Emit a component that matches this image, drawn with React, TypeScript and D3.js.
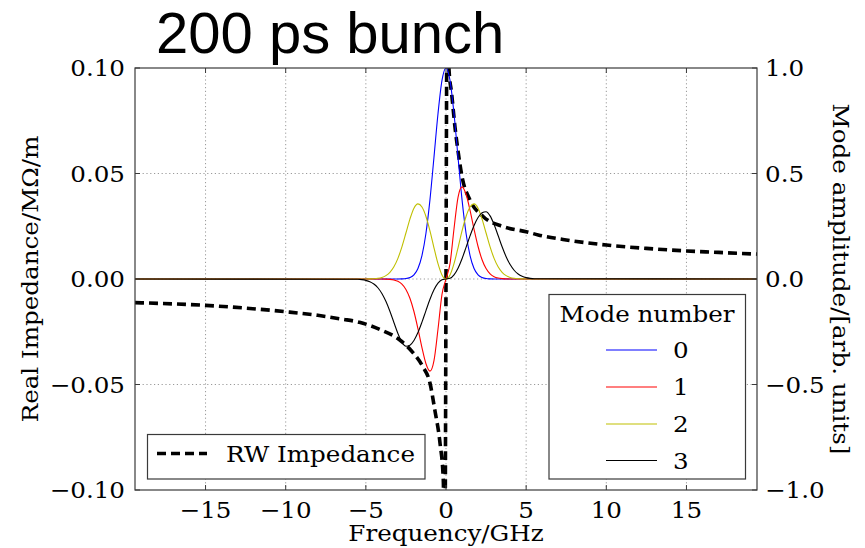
import React from "react";
import * as d3 from "d3";

// ---------- data ----------
const TITLE = "200 ps bunch";
const X_TICKS = [-15, -10, -5, 0, 5, 10, 15];
const YL_TICKS = [-0.1, -0.05, 0, 0.05, 0.1];
const YR_TICKS = [-1, -0.5, 0, 0.5, 1];

// Resistive wall impedance (MOhm/m) vs frequency (GHz)
const RW_FREQ = [-19.4, -17, -15, -12.5, -10, -8, -6.5, -5.4, -4.1, -2.9, -2.05, -1.45, -1.0, -0.7, -0.37, -0.17, -0.08,
  0.08, 0.19, 0.35, 0.56, 0.77, 1.0, 1.5, 2.33, 3.57, 5.0, 5.75, 7.5, 10, 12.5, 15, 17, 19.4];
const RW_Z = [-0.0112, -0.0118, -0.0125, -0.0138, -0.0155, -0.0172, -0.019, -0.0205, -0.024, -0.0288, -0.035, -0.0415, -0.0493, -0.062, -0.078, -0.095, -0.14,
  0.14, 0.099, 0.088, 0.072, 0.0596, 0.0485, 0.0374, 0.0295, 0.0248, 0.0224, 0.0209, 0.0185, 0.0161, 0.0145, 0.0133, 0.0126, 0.0118];

// Mode spectra (arb. units) vs frequency (GHz)
const MODE_FREQ = [-19.4, -5.5, -5.25, -5, -4.75, -4.5, -4.25, -4, -3.75, -3.5, -3.25, -3, -2.75, -2.5, -2.25, -2, -1.75, -1.5, -1.25, -1, -0.75, -0.5, -0.25,
  0, 0.25, 0.5, 0.75, 1, 1.25, 1.5, 1.75, 2, 2.25, 2.5, 2.75, 3, 3.25, 3.5, 3.75, 4, 4.25, 4.5, 4.75, 5, 5.25, 5.5, 19.4];
const MODE0 = [0, 0, 0, 0, 0, 0, 0, 0, 0, 0, 0, 0.0001, 0.0006, 0.002, 0.007, 0.02, 0.05, 0.111, 0.217, 0.376, 0.577, 0.783, 0.941,
  1.0, 0.941, 0.783, 0.577, 0.376, 0.217, 0.111, 0.05, 0.02, 0.007, 0.002, 0.0006, 0.0001, 0, 0, 0, 0, 0, 0, 0, 0, 0, 0, 0];
const MODE1 = [0, 0, 0, 0, 0, 0, 0, 0, -0.0006, -0.0017, -0.0046, -0.011, -0.0244, -0.0494, -0.0913, -0.154, -0.2357, -0.3254, -0.4017, -0.4368, -0.3873, -0.2383, -0.0725,
  0, 0.0725, 0.2383, 0.3873, 0.4368, 0.4017, 0.3254, 0.2357, 0.154, 0.0913, 0.0494, 0.0244, 0.011, 0.0046, 0.0017, 0.0006, 0, 0, 0, 0, 0, 0, 0, 0];
const MODE2 = [0, 0, 0, 0, 0.0005, 0.0013, 0.0033, 0.0075, 0.016, 0.0316, 0.0579, 0.0979, 0.1524, 0.2179, 0.2841, 0.3357, 0.356, 0.341, 0.2964, 0.2279, 0.1479, 0.0728, 0.0194,
  0, 0.0194, 0.0728, 0.1479, 0.2279, 0.2964, 0.341, 0.356, 0.3357, 0.2841, 0.2179, 0.1524, 0.0979, 0.0579, 0.0316, 0.016, 0.0075, 0.0033, 0.0013, 0.0005, 0, 0, 0, 0];
const MODE3 = [0, -0.0013, -0.003, -0.0064, -0.0126, -0.0236, -0.0414, -0.0683, -0.1056, -0.1527, -0.206, -0.258, -0.299, -0.3184, -0.3136, -0.2914, -0.2537, -0.2044, -0.1496, -0.0962, -0.0514, -0.0199, -0.0037,
  0, 0.0037, 0.0199, 0.0514, 0.0962, 0.1496, 0.2044, 0.2537, 0.2914, 0.3136, 0.3184, 0.299, 0.258, 0.206, 0.1527, 0.1056, 0.0683, 0.0414, 0.0236, 0.0126, 0.0064, 0.003, 0.0013, 0];
const MODE_LABELS = ["0", "1", "2", "3"];
const MODE_SERIES = [MODE0, MODE1, MODE2, MODE3];

// ---------- styling ----------
const W = 865, H = 548;
const PL = 135, PR = 757, PT = 68, PB = 490;
const MODE_COLORS = ["#0000ff", "#ff0000", "#bfbf00", "#000000"];
const SERIF = "'DejaVu Serif', serif";
const FS = 23;
const SX = 1.07;
const fmtMinus = (s: string) => s.replace("-", "\u2212");

type TProps = { x: number; y: number; rot?: number; anchor?: "start" | "middle" | "end"; dy?: string; children: React.ReactNode };
function T({ x, y, rot = 0, anchor = "start", dy, children }: TProps) {
  return (
    <text
      transform={`translate(${x},${y}) rotate(${rot}) scale(${SX},1)`}
      textAnchor={anchor}
      dy={dy}
      fontFamily={SERIF}
      fontSize={FS}
      fill="#000"
    >
      {children}
    </text>
  );
}

export default function App() {
  const x = d3.scaleLinear().domain([-19.4, 19.4]).range([PL, PR]);
  const yL = d3.scaleLinear().domain([-0.1, 0.1]).range([PB, PT]);
  const yR = d3.scaleLinear().domain([-1, 1]).range([PB, PT]);

  const rwLine = d3.line<number>()
    .x((_, i) => x(RW_FREQ[i]))
    .y((d) => yL(d))
    .curve(d3.curveMonotoneX);

  const modeLine = d3.line<number>()
    .x((_, i) => x(MODE_FREQ[i]))
    .y((d) => yR(d))
    .curve(d3.curveMonotoneX);

  const gridStyle = { stroke: "#808080", strokeWidth: 0.8, strokeDasharray: "1.2,2.6" };
  const axisColor = "#3a3a3a";

  const modeLegY = [350, 387, 424, 460.5];

  return (
    <svg width={W} height={H} style={{ position: "absolute", left: 0, top: 0, background: "#fff" }}>
      <defs>
        <clipPath id="plotClip">
          <rect x={PL} y={PT} width={PR - PL} height={PB - PT} />
        </clipPath>
      </defs>
      <rect x={0} y={0} width={W} height={H} fill="#fff" />

      {/* grid */}
      {X_TICKS.map((t) => (
        <line key={"gx" + t} x1={x(t)} x2={x(t)} y1={PT} y2={PB} {...gridStyle} />
      ))}
      {[-0.05, 0, 0.05].map((t) => (
        <line key={"gy" + t} x1={PL} x2={PR} y1={yL(t)} y2={yL(t)} {...gridStyle} />
      ))}

      {/* RW impedance */}
      <g clipPath="url(#plotClip)">
        <path d={rwLine(RW_Z) || ""} fill="none" stroke="#000" strokeWidth={3.6} strokeDasharray="9,5" />
      </g>

      {/* modes */}
      <g clipPath="url(#plotClip)">
        {MODE_SERIES.map((s, k) => (
          <path key={"m" + k} d={modeLine(s) || ""} fill="none" stroke={MODE_COLORS[k]} strokeWidth={1.1} />
        ))}
      </g>

      {/* frame */}
      <rect x={PL} y={PT} width={PR - PL} height={PB - PT} fill="none" stroke={axisColor} strokeWidth={1.2} />

      {/* ticks */}
      {X_TICKS.map((t) => (
        <g key={"tx" + t}>
          <line x1={x(t)} x2={x(t)} y1={PB} y2={PB - 5} stroke={axisColor} strokeWidth={1} />
          <line x1={x(t)} x2={x(t)} y1={PT} y2={PT + 5} stroke={axisColor} strokeWidth={1} />
          <T x={x(t)} y={518} anchor="middle">{fmtMinus(String(t))}</T>
        </g>
      ))}
      {YL_TICKS.map((t) => (
        <g key={"tyl" + t}>
          <line x1={PL} x2={PL + 5} y1={yL(t)} y2={yL(t)} stroke={axisColor} strokeWidth={1} />
          <T x={125} y={yL(t)} dy="0.36em" anchor="end">{fmtMinus(d3.format(".2f")(t))}</T>
        </g>
      ))}
      {YR_TICKS.map((t) => (
        <g key={"tyr" + t}>
          <line x1={PR} x2={PR - 5} y1={yR(t)} y2={yR(t)} stroke={axisColor} strokeWidth={1} />
          <T x={765} y={yR(t)} dy="0.36em" anchor="start">{fmtMinus(d3.format(".1f")(t))}</T>
        </g>
      ))}

      {/* axis labels */}
      <T x={x(0)} y={541} anchor="middle">Frequency/GHz</T>
      <T x={38} y={(PT + PB) / 2} rot={-90} anchor="middle">Real Impedance/MΩ/m</T>
      <T x={833} y={(PT + PB) / 2} rot={90} anchor="middle">Mode amplitude/[arb. units]</T>

      {/* title */}
      <text x={156} y={53} fontFamily="'Liberation Sans', Arial, sans-serif" fontSize={58} fill="#000">{TITLE}</text>

      {/* RW legend */}
      <rect x={147.5} y={434.5} width={277.5} height={44.5} fill="#fff" stroke={axisColor} strokeWidth={1.2} />
      <line x1={157} x2={207} y1={453.5} y2={453.5} stroke="#000" strokeWidth={3.6} strokeDasharray="9,5" />
      <T x={226} y={462}>RW Impedance</T>

      {/* Mode legend */}
      <rect x={549} y={294.5} width={196.5} height={184.5} fill="#fff" stroke={axisColor} strokeWidth={1.2} />
      <T x={647} y={322} anchor="middle">Mode number</T>
      {MODE_LABELS.map((lab, k) => (
        <g key={"leg" + k}>
          <line x1={606} x2={657} y1={modeLegY[k]} y2={modeLegY[k]} stroke={MODE_COLORS[k]} strokeWidth={1.2} />
          <T x={673} y={modeLegY[k] + 8}>{lab}</T>
        </g>
      ))}
    </svg>
  );
}
